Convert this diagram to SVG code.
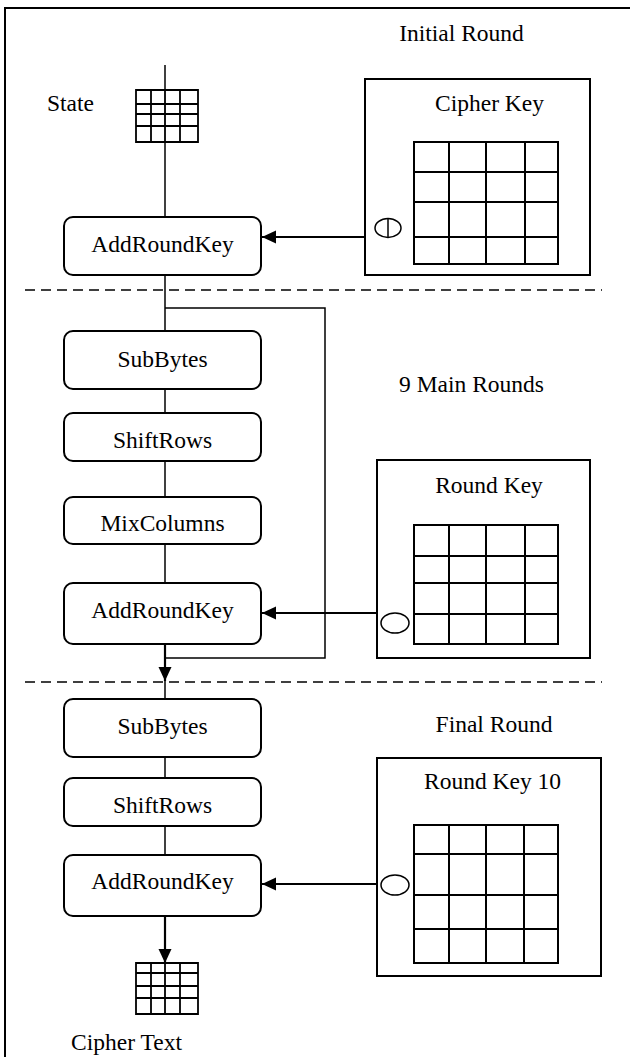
<svg xmlns="http://www.w3.org/2000/svg" width="630" height="1057" viewBox="0 0 630 1057">
<defs>
<style>
text{font-family:'Liberation Serif','Times New Roman','DejaVu Serif',serif;font-size:23.5px;fill:#000;text-anchor:middle}
.box{fill:#fff;stroke:#000;stroke-width:2}
.kbox{fill:#fff;stroke:#000;stroke-width:2}
.grid{fill:none;stroke:#000;stroke-width:2}
.sgrid{fill:none;stroke:#000;stroke-width:1.8}
.ln{fill:none;stroke:#000;stroke-width:1.5}
.arr{fill:none;stroke:#000;stroke-width:2.2}
.dash{fill:none;stroke:#000;stroke-width:1.5;stroke-dasharray:10,6}
</style>
<marker id="ah" markerUnits="userSpaceOnUse" markerWidth="16" markerHeight="14" refX="14" refY="6.5" orient="auto">
<path d="M0,0 L14,6.5 L0,13 Z" fill="#000"/>
</marker>
</defs>
<rect x="0" y="0" width="630" height="1057" fill="#fff"/>
<rect x="5" y="8" width="640" height="1080" fill="none" stroke="#000" stroke-width="2"/>

<g id="connectors">
<line class="ln" x1="165" y1="65" x2="165" y2="217"/>
<line class="ln" x1="165" y1="275" x2="165" y2="331"/>
<polyline class="ln" points="165,308 325,308 325,658 165,658"/>
<line class="ln" x1="165" y1="389" x2="165" y2="413"/>
<line class="ln" x1="165" y1="461" x2="165" y2="497"/>
<line class="ln" x1="165" y1="544" x2="165" y2="583"/>
<line class="arr" x1="165" y1="644" x2="165" y2="681" marker-end="url(#ah)"/>
<line class="ln" x1="165" y1="680" x2="165" y2="699"/>
<line class="ln" x1="165" y1="757" x2="165" y2="778"/>
<line class="ln" x1="165" y1="826" x2="165" y2="855"/>
<line class="arr" x1="165" y1="916" x2="165" y2="963" marker-end="url(#ah)"/>
<line class="arr" x1="365" y1="237" x2="262" y2="237" marker-end="url(#ah)"/>
<line class="arr" x1="377" y1="613" x2="262" y2="613" marker-end="url(#ah)"/>
<line class="arr" x1="377" y1="884" x2="262" y2="884" marker-end="url(#ah)"/>
</g>

<g id="separators">
<line class="dash" x1="25" y1="290" x2="602" y2="290"/>
<line class="dash" x1="25" y1="682" x2="602" y2="682"/>
</g>

<g id="labels">
<text x="461.5" y="41">Initial Round</text>
<text x="471.5" y="392">9 Main Rounds</text>
<text x="494" y="732">Final Round</text>
</g>

<g id="state">
<rect x="136" y="90" width="62" height="52" fill="#fff" stroke="none"/>
<path class="sgrid" d="M136,90 H198 V142 H136 Z M151,90 V142 M165,90 V142 M180,90 V142 M136,104 H198 M136,114 H198 M136,126 H198"/>
<text x="70.5" y="111">State</text>
</g>

<g id="cipherKey">
<rect class="kbox" x="365" y="79" width="225" height="196"/>
<text x="489.5" y="111">Cipher Key</text>
<path class="grid" d="M414,142 H558 V264 H414 Z M449,142 V264 M486,142 V264 M525,142 V264 M414,172 H558 M414,202 H558 M414,237 H558"/>
<ellipse cx="388" cy="228" rx="13" ry="9.5" fill="none" stroke="#000" stroke-width="1.5"/>
<line x1="388" y1="218.5" x2="388" y2="237.5" stroke="#000" stroke-width="1.5"/>
</g>

<g id="addRoundKey0">
<rect class="box" x="64" y="217" width="197" height="58" rx="9"/>
<text x="162.5" y="252">AddRoundKey</text>
</g>

<g id="subBytes1">
<rect class="box" x="64" y="331" width="197" height="58" rx="9"/>
<text x="162.5" y="367">SubBytes</text>
</g>
<g id="shiftRows1">
<rect class="box" x="64" y="413" width="197" height="48" rx="9"/>
<text x="162.5" y="448">ShiftRows</text>
</g>
<g id="mixColumns1">
<rect class="box" x="64" y="497" width="197" height="47" rx="9"/>
<text x="162.5" y="531">MixColumns</text>
</g>
<g id="addRoundKey1">
<rect class="box" x="64" y="583" width="197" height="61" rx="9"/>
<text x="162.5" y="618">AddRoundKey</text>
</g>

<g id="roundKey">
<rect class="kbox" x="377" y="460" width="213" height="198"/>
<text x="489" y="493">Round Key</text>
<path class="grid" d="M414,525 H558 V644 H414 Z M449,525 V644 M486,525 V644 M525,525 V644 M414,556 H558 M414,583 H558 M414,614 H558"/>
<ellipse cx="395" cy="623" rx="14" ry="10" fill="none" stroke="#000" stroke-width="1.5"/>
</g>

<g id="subBytes2">
<rect class="box" x="64" y="699" width="197" height="58" rx="9"/>
<text x="162.5" y="734">SubBytes</text>
</g>
<g id="shiftRows2">
<rect class="box" x="64" y="778" width="197" height="48" rx="9"/>
<text x="162.5" y="813">ShiftRows</text>
</g>
<g id="addRoundKey2">
<rect class="box" x="64" y="855" width="197" height="61" rx="9"/>
<text x="162.5" y="889">AddRoundKey</text>
</g>

<g id="roundKey10">
<rect class="kbox" x="377" y="758" width="224" height="218"/>
<text x="492.5" y="789">Round Key 10</text>
<path class="grid" d="M414,825 H558 V963 H414 Z M449,825 V963 M486,825 V963 M524,825 V963 M414,854 H558 M414,895 H558 M414,929 H558"/>
<ellipse cx="395" cy="885" rx="14" ry="10" fill="none" stroke="#000" stroke-width="1.5"/>
</g>

<g id="cipherText">
<path class="sgrid" d="M136,963 H198 V1014 H136 Z M151,963 V1014 M165,963 V1014 M180,963 V1014 M136,973 H198 M136,986 H198 M136,998 H198"/>
<text x="126.5" y="1050">Cipher Text</text>
</g>
</svg>
